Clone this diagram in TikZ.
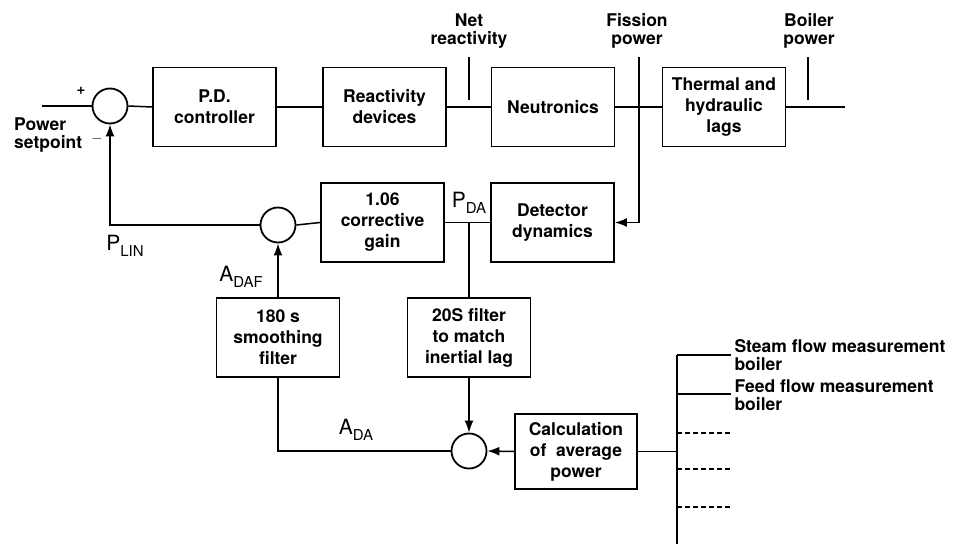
\documentclass[tikz,border=0pt]{standalone}
\usepackage{fontspec}
\setmainfont{TeX Gyre Heros}
\usetikzlibrary{arrows.meta, positioning, calc}

% signal name with a dropped subscript
\newcommand{\sig}[2]{{\fontsize{21}{21}\selectfont #1}\raisebox{-6pt}{\fontsize{15}{15}\selectfont #2}}

\begin{document}
\begin{tikzpicture}[
  x=1pt, y=-1pt,
  >={Latex[length=12pt, width=9pt]},
  ctrlbox/.style={draw, line width=1.8pt, minimum width=123pt, minimum height=79pt,
                  align=center, inner sep=2pt, font=\fontsize{17.5}{21}\selectfont\bfseries},
  sumpt/.style={draw, circle, line width=1.8pt, minimum size=35pt, inner sep=0pt},
  lbl/.style={align=center, font=\fontsize{17.5}{18}\selectfont\bfseries},
  wire/.style={line width=1.5pt},
]

\useasboundingbox (0,0) rectangle (959,544);

% === Forward path ===
\node[sumpt] (sum1) at (110,106) {};
\node[ctrlbox] (pd) at (214.5,107) {P.D.\\controller};
\node[ctrlbox] (react) at (384.5,107) {Reactivity\\devices};
\node[ctrlbox] (neut) at (553,107) {Neutronics};
\node[ctrlbox] (therm) at (724,107) {Thermal and\\hydraulic\\lags};

\coordinate (in) at (42,106);
\coordinate (out) at (845,107);

\draw[wire] (in) -- (sum1.west);
\draw[wire] (sum1.east) -- (pd.west);
\draw[wire] (pd.east) -- (react.west);
\draw[wire] (react.east) -- (neut.west);
\draw[wire] (neut.east) -- (therm.west);
\draw[wire] (therm.east) -- (out);

\node[lbl, anchor=west, align=left, inner sep=0pt] (setpt) at (14,135) {Power\\setpoint};
\node[font=\bfseries\fontsize{15}{15}\selectfont] (plus) at (81,91) {+};
\node[font=\fontsize{15}{15}\selectfont] (minus) at (97,139) {$-$};

% signal taps
\node[lbl] (netlbl) at (469,31) {Net\\reactivity};
\node[lbl] (fislbl) at (637,31) {Fission\\power};
\node[lbl] (boilbl) at (809,31) {Boiler\\power};

\coordinate (nrtop) at (469,57);
\coordinate (nrbot) at (469,100);
\coordinate (fptop) at (639,57);
\coordinate (bptop) at (808,57);
\coordinate (bpbot) at (808,100);

\draw[wire] (nrtop) -- (nrbot);
\draw[wire] (bptop) -- (bpbot);

% === Measurement path ===
\node[ctrlbox] (det) at (552.5,222.5) {Detector\\dynamics};
\node[ctrlbox] (gain) at (382.5,222.5) {1.06\\corrective\\gain};
\node[sumpt] (sum2) at (278,225) {};

\draw[wire, ->] (fptop) |- (det.east);
\draw[wire] (det.west) -- (gain.east);
\draw[wire] (gain.west) -- (sum2.east);
\draw[wire, ->] (sum2.west) -| (sum1.south);

\node (plin) at (125,246) {\sig{P}{LIN}};
\node (pda) at (469,203) {\sig{P}{DA}};
\node (adaf) at (241,277) {\sig{A}{DAF}};

% === Filters and average power ===
\node[ctrlbox] (smooth) at (278,337.5) {180 s\\smoothing\\filter};
\node[ctrlbox] (filt20) at (469,337.5) {20S filter\\to match\\inertial lag};
\node[sumpt] (sum3) at (469,451) {};
\node[ctrlbox, minimum width=122pt, minimum height=75pt] (calc) at (576,451.5)
  {Calculation\\of\ \ average\\power};

\draw[wire] (filt20.north) -- (filt20.north |- det.west);
\draw[wire, ->] (smooth.north) -- (sum2.south);
\draw[wire, ->] (filt20.south) -- (sum3.north);
\draw[wire, ->] (calc.west) -- (sum3.east);
\draw[wire] (sum3.west) -| (smooth.south);

\node (ada) at (356,430) {\sig{A}{DA}};

% === Boiler measurements ===
\coordinate (bus) at (677,451.5);
\coordinate (bustop) at (677,355);
\coordinate (busbot) at (677,544);

\draw[wire] (calc.east) -- (bus);
\draw[wire] (bustop) -- (busbot);

\node[lbl, anchor=north west, align=left] (steam) at (731,336) {Steam flow measurement\\boiler};
\node[lbl, anchor=north west, align=left] (feed) at (731,376) {Feed flow measurement\\boiler};

\draw[wire] (bustop) -- (steam.west |- bustop);
\draw[wire] (bustop |- 0,394) -- (feed.west |- 0,394);
\foreach \yy in {433,469,507}
  \draw[wire, dashed, dash pattern=on 5pt off 3pt] (bustop |- 0,\yy) -- (feed.west |- 0,\yy);

\end{tikzpicture}
\end{document}
